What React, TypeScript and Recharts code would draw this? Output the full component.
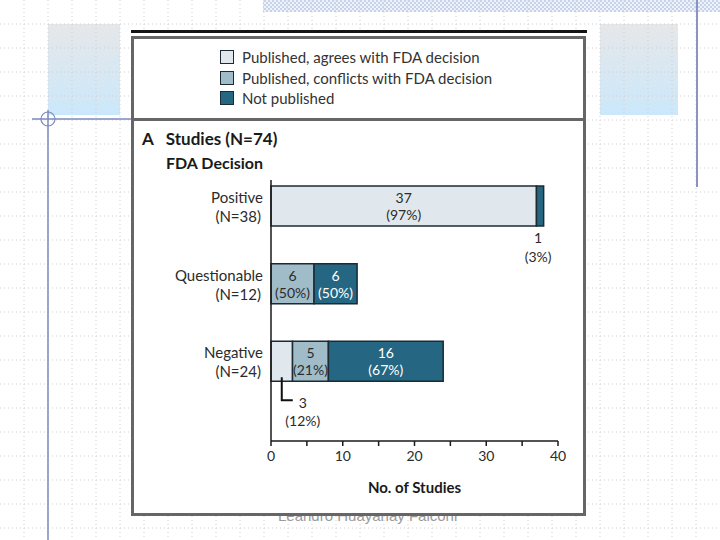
import React from 'react';
import { BarChart, Bar, XAxis, YAxis, LabelList } from 'recharts';

// FDA decision categories and the study counts for each outcome
const decisions = ['Positive', 'Questionable', 'Negative'];
const decisionN = [38, 12, 24];
const agrees = [37, 0, 3];
const conflicts = [0, 6, 5];
const notPublished = [1, 6, 16];
// percentages as printed on the figure
const agreesPct = [97, 0, 12];
const conflictsPct = [0, 50, 21];
const notPublishedPct = [3, 50, 67];
const xTicks = [0, 5, 10, 15, 20, 25, 30, 35, 40];

const FONT = 'Lato, "Open Sans", sans-serif';

type Place = 'inside' | 'below' | 'leader' | 'none';

interface Series {
  key: string;
  name: string;
  fill: string;
  text: string;
  values: number[];
  pct: number[];
  place: Place[];
}

const series: Series[] = [
  {
    key: 'agrees',
    name: 'Published, agrees with FDA decision',
    fill: '#e1e8ed',
    text: '#2b2b2b',
    values: agrees,
    pct: agreesPct,
    place: ['inside', 'none', 'leader'],
  },
  {
    key: 'conflicts',
    name: 'Published, conflicts with FDA decision',
    fill: '#a1bcc9',
    text: '#2b2b2b',
    values: conflicts,
    pct: conflictsPct,
    place: ['none', 'inside', 'inside'],
  },
  {
    key: 'notPublished',
    name: 'Not published',
    fill: '#256682',
    text: '#ffffff',
    values: notPublished,
    pct: notPublishedPct,
    place: ['below', 'inside', 'inside'],
  },
];

const data = decisions.map((name, i) => ({
  name,
  agrees: agrees[i],
  conflicts: conflicts[i],
  notPublished: notPublished[i],
}));

// LabelList gets the category name as value, so the row is looked up from it
const makeLabel = (s: Series) => (props: any) => {
  const index = decisions.indexOf(props.value);
  const box = props.viewBox && props.viewBox.width !== undefined ? props.viewBox : props;
  const { x, y, width, height } = box;
  const v = s.values[index];
  if (!v) return null;
  const place = s.place[index];
  const cx = x + width / 2;
  const cy = y + height / 2;
  const bottom = y + height;
  const txt = { fontFamily: FONT, fontSize: 14, textAnchor: 'middle' as const, dominantBaseline: 'central' as const };

  if (place === 'inside') {
    return (
      <g>
        <text x={cx} y={cy - 8.5} fill={s.text} {...txt}>{v}</text>
        <text x={cx} y={cy + 8.5} fill={s.text} {...txt}>({s.pct[index]}%)</text>
      </g>
    );
  }
  if (place === 'below') {
    return (
      <g>
        <text x={cx - 2} y={bottom + 11} fill="#2b2b2b" {...txt}>{v}</text>
        <text x={cx - 2} y={bottom + 30} fill="#2b2b2b" {...txt}>({s.pct[index]}%)</text>
      </g>
    );
  }
  if (place === 'leader') {
    return (
      <g>
        <path
          d={`M${cx},${bottom - 4} L${cx},${bottom + 19} L${cx + 11},${bottom + 19}`}
          stroke="#111"
          strokeWidth={2}
          fill="none"
        />
        <text x={cx + 21} y={bottom + 21} fill="#2b2b2b" {...txt}>{v}</text>
        <text x={cx + 21} y={bottom + 39} fill="#2b2b2b" {...txt}>({s.pct[index]}%)</text>
      </g>
    );
  }
  return null;
};

const DecisionTick = (props: any) => {
  const { x, y, payload } = props;
  const i = decisions.indexOf(payload.value);
  const style = { fontFamily: FONT, fontSize: 15, fill: '#2b2b2b', textAnchor: 'end' as const, dominantBaseline: 'central' as const };
  return (
    <g>
      <text x={x} y={y - 9} {...style}>{payload.value}</text>
      <text x={x - 2} y={y + 10} {...style}>(N={decisionN[i]})</text>
    </g>
  );
};

const Backdrop = () => {
  const lines = [];
  for (let k = 1; k < 30; k++) {
    lines.push(<line key={'v' + k} x1={k * 24} y1={0} x2={k * 24} y2={540} />);
    lines.push(<line key={'h' + k} x1={0} y1={k * 24} x2={720} y2={k * 24} />);
  }
  return (
    <svg width={720} height={540} style={{ position: 'absolute', left: 0, top: 0 }}>
      <defs>
        <linearGradient id="panelFade" x1="0" y1="0" x2="0" y2="1">
          <stop offset="0%" stopColor="#e6e7e9" />
          <stop offset="100%" stopColor="#cbe8fb" />
        </linearGradient>
        <pattern id="hatch" width="4" height="4" patternUnits="userSpaceOnUse">
          <rect width="4" height="4" fill="#eef2f9" />
          <rect width="2" height="2" fill="#c6d3ea" />
          <rect x="2" y="2" width="2" height="2" fill="#c6d3ea" />
        </pattern>
      </defs>
      <rect x={48} y={24} width={72} height={91} fill="url(#panelFade)" />
      <rect x={600} y={24} width={78} height={91} fill="url(#panelFade)" />
      <rect x={263} y={0} width={457} height={12} fill="url(#hatch)" />
      <g stroke="#cfcfcf" strokeWidth={1} strokeDasharray="1 3">{lines}</g>
      <line x1={697} y1={0} x2={697} y2={187} stroke="#8b93c2" strokeWidth={2} />
      <line x1={48} y1={110} x2={48} y2={540} stroke="#7d89bb" strokeWidth={1.5} />
      <line x1={32} y1={119} x2={132} y2={119} stroke="#7d89bb" strokeWidth={1.5} />
      <circle cx={48} cy={119} r={7} fill="none" stroke="#7d89bb" strokeWidth={1.2} />
      <text x={278} y={521} fontFamily="'Liberation Sans', Arial, sans-serif" fontSize={15} fill="#9a9a9a">
        Leandro Huayanay Falconi
      </text>
    </svg>
  );
};

export default function App() {
  return (
    <div style={{ position: 'absolute', left: 0, top: 0, width: 720, height: 540, background: '#fff', overflow: 'hidden', fontFamily: FONT }}>
      <Backdrop />
      <div style={{ position: 'absolute', left: 131, top: 30, width: 456, height: 3, background: '#151515' }} />
      <div
        style={{
          position: 'absolute',
          left: 131,
          top: 36,
          width: 455,
          height: 480,
          boxSizing: 'border-box',
          border: '3px solid #666',
          background: '#fff',
        }}
      >
        <div style={{ position: 'absolute', left: 0, right: 0, top: 79, height: 3, background: '#666' }} />
        <div style={{ position: 'absolute', left: 86, top: 8 }}>
          {series.map((s) => (
            <div key={s.key} style={{ display: 'flex', alignItems: 'center', height: 20.5, fontSize: 15, color: '#333' }}>
              <span
                style={{
                  display: 'inline-block',
                  width: 12,
                  height: 12,
                  background: s.fill,
                  border: '1.5px solid #1b2a33',
                  marginRight: 8,
                }}
              />
              {s.name}
            </div>
          ))}
        </div>
        <div style={{ position: 'absolute', left: 8, top: 89, fontSize: 17, fontWeight: 700, color: '#1a1a1a' }}>
          A
          <span style={{ marginLeft: 12 }}>Studies (N=74)</span>
        </div>
        <div style={{ position: 'absolute', left: 32, top: 114, fontSize: 16, fontWeight: 700, color: '#1a1a1a' }}>
          FDA Decision
        </div>
      </div>
      <div style={{ position: 'absolute', left: 0, top: 0 }}>
        <BarChart
          width={720}
          height={540}
          data={data}
          layout="vertical"
          margin={{ top: 180, right: 162, bottom: 39, left: 151 }}
        >
          <XAxis
            type="number"
            domain={[0, 40]}
            ticks={xTicks}
            interval={0}
            tickFormatter={(v: number) => (v % 10 === 0 ? String(v) : '')}
            tick={{ fontSize: 14, fill: '#2b2b2b', fontFamily: FONT }}
            tickSize={5}
            tickMargin={5}
            axisLine={{ stroke: '#1a1a1a', strokeWidth: 1.5 }}
            tickLine={{ stroke: '#1a1a1a', strokeWidth: 1.5 }}
            height={60}
            label={{
              value: 'No. of Studies',
              position: 'insideBottom',
              offset: 8,
              fill: '#1a1a1a',
              fontSize: 15,
              fontWeight: 700,
              fontFamily: FONT,
            }}
          />
          <YAxis
            type="category"
            dataKey="name"
            width={120}
            tickSize={0}
            tickMargin={8}
            tickLine={false}
            axisLine={{ stroke: '#1a1a1a', strokeWidth: 1.5 }}
            tick={<DecisionTick />}
            padding={{ top: -13, bottom: 41 }}
          />
          {series.map((s) => (
            <Bar
              key={s.key}
              dataKey={s.key}
              name={s.name}
              stackId="studies"
              fill={s.fill}
              stroke="#1b2a33"
              strokeWidth={1.5}
              barSize={40}
              isAnimationActive={false}
            >
              <LabelList dataKey="name" content={makeLabel(s)} />
            </Bar>
          ))}
        </BarChart>
      </div>
    </div>
  );
}
